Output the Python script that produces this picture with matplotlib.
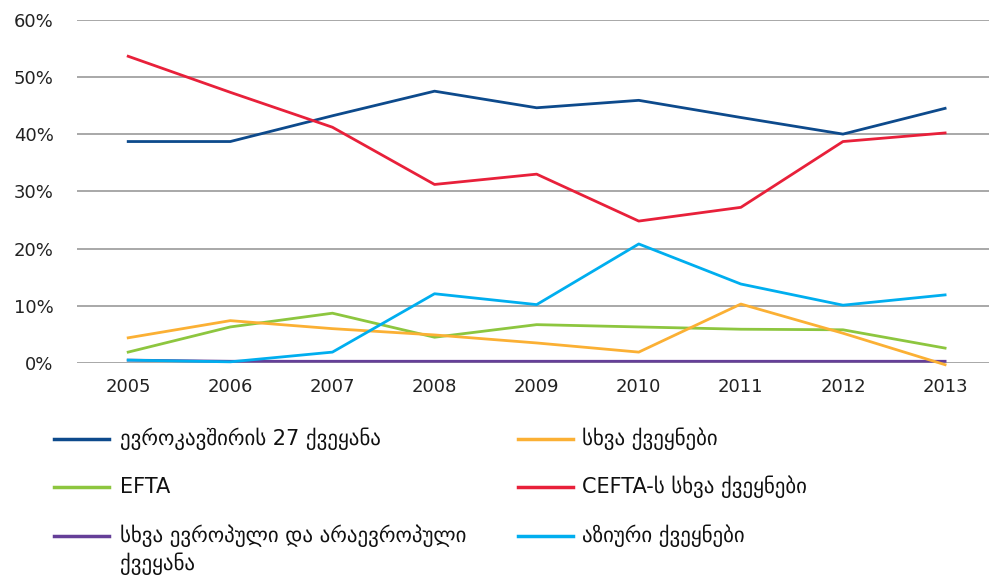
import matplotlib
matplotlib.use('Agg')
import matplotlib.pyplot as plt
from matplotlib.lines import Line2D

plt.rcParams['font.family'] = ['DejaVu Sans']

years = [2005, 2006, 2007, 2008, 2009, 2010, 2011, 2012, 2013]

eu27 = [38.7, 38.7, 43.2, 47.5, 44.6, 45.9, 42.9, 40.0, 44.5]
other = [4.4, 7.4, 6.0, 4.9, 3.5, 1.9, 10.3, 5.2, -0.3]
efta = [1.9, 6.3, 8.7, 4.5, 6.7, 6.3, 5.9, 5.8, 2.6]
cefta = [53.6, 47.3, 41.2, 31.2, 33.0, 24.8, 27.2, 38.7, 40.2]
euro_noneuro = [0.5, 0.3, 0.3, 0.3, 0.3, 0.3, 0.3, 0.3, 0.3]
asian = [0.5, 0.2, 1.9, 12.1, 10.2, 20.8, 13.8, 10.1, 11.9]

labels = ['ევროკავშირის 27 ქვეყანა', 'სხვა ქვეყნები', 'EFTA',
          'CEFTA-ს სხვა ქვეყნები', 'სხვა ევროპული და არაევროპული\nქვეყანა',
          'აზიური ქვეყნები']
series = [eu27, other, efta, cefta, euro_noneuro, asian]
colors = ['#0d4a8c', '#fbb034', '#8dc63f', '#e8203a', '#653f98', '#00aeef']

fig = plt.figure(figsize=(9.89, 5.78), dpi=100)
ax = fig.add_axes([0.078, 0.372, 0.922, 0.594])

# draw order: purple first so others sit on top
for i in [4, 0, 2, 1, 5, 3]:
    ax.plot(years, series[i], color=colors[i], lw=2, clip_on=False, zorder=3)

ax.set_xlim(2004.5, 2013.43)
ax.set_ylim(0, 60)
ax.set_yticks(range(0, 61, 10))
ax.set_yticklabels([f'{v}%' for v in range(0, 61, 10)])
ax.set_xticks(years)
ax.grid(axis='y', color='#999999', lw=1.2)
ax.set_axisbelow(True)
for s in ax.spines.values():
    s.set_visible(False)
ax.tick_params(length=0, labelsize=13, colors='#222222')
ax.tick_params(axis='y', pad=17)
ax.tick_params(axis='x', pad=11)

# legend, drawn by hand in pixel positions
W, H = 989, 578
rows = [439, 487, 536]
cols = [(54, 120), (518, 582)]
k = 0
for r in rows:
    for lx, tx in cols:
        y = 1 - r / H
        fig.add_artist(Line2D([lx / W, (lx + 55) / W], [y, y],
                              color=colors[k], lw=2.5))
        for j, part in enumerate(labels[k].split('\n')):
            fig.text(tx / W, y - j * 28 / H, part, fontsize=15,
                     color='#111111', va='center')
        k += 1

fig.savefig('out.png', dpi=100)
